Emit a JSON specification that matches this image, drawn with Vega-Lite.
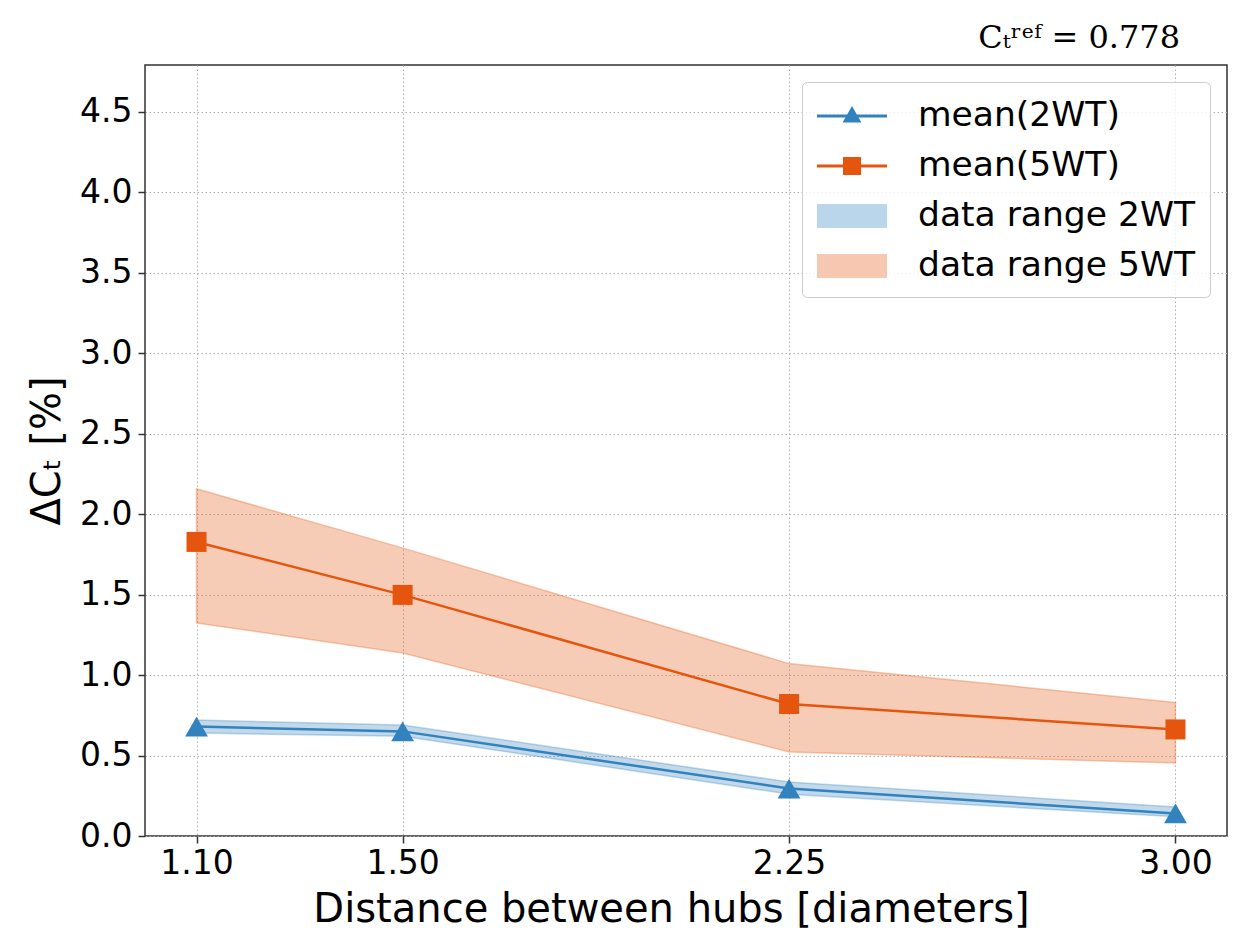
{
  "$schema": "https://vega.github.io/schema/vega-lite/v6.json",
  "width": 1082,
  "height": 771,
  "autosize": {"type": "none"},
  "padding": {"left": 145, "top": 65, "right": 10, "bottom": 97},
  "background": "white",
  "config": {
    "view": {"stroke": "#333333", "strokeWidth": 1.5},
    "font": "DejaVu Sans"
  },
  "title": {
    "text": "Cₜʳᵉᶠ = 0.778",
    "anchor": "end",
    "orient": "top",
    "font": "DejaVu Serif",
    "fontSize": 32,
    "fontWeight": "normal",
    "color": "black",
    "baseline": "bottom",
    "offset": -22,
    "dx": -47
  },
  "data": {
    "values": [
      {"d": 1.10, "meanLabel": "mean(2WT)", "rangeLabel": "data range 2WT", "mean": 0.68, "lo": 0.64, "hi": 0.72},
      {"d": 1.50, "meanLabel": "mean(2WT)", "rangeLabel": "data range 2WT", "mean": 0.65, "lo": 0.62, "hi": 0.69},
      {"d": 2.25, "meanLabel": "mean(2WT)", "rangeLabel": "data range 2WT", "mean": 0.295, "lo": 0.26, "hi": 0.335},
      {"d": 3.00, "meanLabel": "mean(2WT)", "rangeLabel": "data range 2WT", "mean": 0.14, "lo": 0.12, "hi": 0.18},
      {"d": 1.10, "meanLabel": "mean(5WT)", "rangeLabel": "data range 5WT", "mean": 1.827, "lo": 1.324, "hi": 2.157},
      {"d": 1.50, "meanLabel": "mean(5WT)", "rangeLabel": "data range 5WT", "mean": 1.498, "lo": 1.137, "hi": 1.79},
      {"d": 2.25, "meanLabel": "mean(5WT)", "rangeLabel": "data range 5WT", "mean": 0.82, "lo": 0.522, "hi": 1.071},
      {"d": 3.00, "meanLabel": "mean(5WT)", "rangeLabel": "data range 5WT", "mean": 0.662, "lo": 0.454, "hi": 0.83}
    ]
  },
  "encoding": {
    "x": {
      "field": "d",
      "type": "quantitative",
      "scale": {"domain": [1.0, 3.1], "nice": false, "zero": false},
      "axis": {
        "values": [1.1, 1.5, 2.25, 3.0],
        "format": ".2f",
        "title": "Distance between hubs [diameters]",
        "titleFont": "DejaVu Sans",
        "titleFontSize": 40,
        "titleFontWeight": "normal",
        "titleColor": "black",
        "titlePadding": 9,
        "titleX": 526,
        "titleAnchor": "middle",
        "labelFont": "DejaVu Sans",
        "labelFontSize": 33,
        "labelColor": "black",
        "labelPadding": 4,
        "tickSize": 7,
        "tickColor": "#333333",
        "tickWidth": 1.5,
        "domain": false,
        "grid": true,
        "gridColor": "#b0b0b0",
        "gridDash": [1.5, 2.5],
        "gridWidth": 1
      }
    },
    "y": {
      "field": "mean",
      "type": "quantitative",
      "scale": {"domain": [0, 4.79], "nice": false, "zero": false},
      "axis": {
        "values": [0, 0.5, 1, 1.5, 2, 2.5, 3, 3.5, 4, 4.5],
        "format": ".1f",
        "title": "ΔCₜ [%]",
        "titleFont": "DejaVu Sans",
        "titleFontSize": 40,
        "titleFontWeight": "normal",
        "titleColor": "black",
        "titlePadding": 12,
        "labelFont": "DejaVu Sans",
        "labelFontSize": 33,
        "labelColor": "black",
        "labelPadding": 6,
        "tickSize": 7,
        "tickColor": "#333333",
        "tickWidth": 1.5,
        "domain": false,
        "grid": true,
        "gridColor": "#b0b0b0",
        "gridDash": [1.5, 2.5],
        "gridWidth": 1
      }
    }
  },
  "layer": [
    {
      "transform": [{"fold": ["meanLabel", "rangeLabel"], "as": ["kind", "entry"]}],
      "mark": {"type": "point", "filled": true, "opacity": 0, "size": 1},
      "encoding": {
        "color": {
          "field": "entry",
          "type": "nominal",
          "scale": {
            "domain": ["mean(2WT)", "mean(5WT)", "data range 2WT", "data range 5WT"],
            "range": ["#3182bd", "#e6550d", "#bad6ea", "#f6c8b2"]
          },
          "legend": {
            "title": null,
            "orient": "top-right",
            "offset": 17,
            "padding": 14,
            "fillColor": "rgba(255,255,255,0.85)",
            "strokeColor": "#cccccc",
            "cornerRadius": 5,
            "symbolSize": 1600,
            "symbolOpacity": 1,
            "symbolStrokeWidth": 0,
            "symbolFillColor": "#888888",
            "labelOffset": 62,
            "labelFont": "DejaVu Sans",
            "labelFontSize": 34.5,
            "labelColor": "black",
            "labelLimit": 400,
            "rowPadding": 13
          }
        },
        "shape": {
          "field": "entry",
          "type": "nominal",
          "scale": {
            "domain": ["mean(2WT)", "mean(5WT)", "data range 2WT", "data range 5WT"],
            "range": [
              "M-0.95,-0.07H2.55V0.07H-0.95Z M0.8,-0.5L1.27,0.33L0.33,0.33Z",
              "M-0.95,-0.07H2.55V0.07H-0.95Z M0.35,-0.45H1.25V0.45H0.35Z",
              "M-0.95,-0.6H2.55V0.6H-0.95Z",
              "M-0.95,-0.6H2.55V0.6H-0.95Z"
            ]
          },
          "legend": {
            "title": null,
            "orient": "top-right",
            "offset": 17,
            "padding": 14,
            "fillColor": "rgba(255,255,255,0.85)",
            "strokeColor": "#cccccc",
            "cornerRadius": 5,
            "symbolSize": 1600,
            "symbolOpacity": 1,
            "symbolStrokeWidth": 0,
            "symbolFillColor": "#888888",
            "labelOffset": 62,
            "labelFont": "DejaVu Sans",
            "labelFontSize": 34.5,
            "labelColor": "black",
            "labelLimit": 400,
            "rowPadding": 13
          }
        }
      }
    },
    {
      "transform": [{"filter": {"field": "rangeLabel", "equal": "data range 5WT"}}],
      "mark": {"type": "area", "fill": "#e6550d", "fillOpacity": 0.3, "stroke": "#e6550d", "strokeOpacity": 0.3, "strokeWidth": 1.5},
      "encoding": {"y": {"field": "lo", "type": "quantitative"}, "y2": {"field": "hi"}}
    },
    {
      "transform": [{"filter": {"field": "rangeLabel", "equal": "data range 2WT"}}],
      "mark": {"type": "area", "fill": "#3182bd", "fillOpacity": 0.3, "stroke": "#3182bd", "strokeOpacity": 0.3, "strokeWidth": 1.5},
      "encoding": {"y": {"field": "lo", "type": "quantitative"}, "y2": {"field": "hi"}}
    },
    {
      "transform": [{"filter": {"field": "meanLabel", "equal": "mean(5WT)"}}],
      "mark": {"type": "line", "color": "#e6550d", "strokeWidth": 2.5},
      "encoding": {}
    },
    {
      "transform": [{"filter": {"field": "meanLabel", "equal": "mean(2WT)"}}],
      "mark": {"type": "line", "color": "#3182bd", "strokeWidth": 2.5},
      "encoding": {}
    },
    {
      "transform": [{"filter": {"field": "meanLabel", "equal": "mean(5WT)"}}],
      "mark": {"type": "point", "shape": "square", "filled": true, "color": "#e6550d", "opacity": 1, "size": 400, "strokeWidth": 0}
    },
    {
      "transform": [{"filter": {"field": "meanLabel", "equal": "mean(2WT)"}}],
      "mark": {"type": "point", "shape": "triangle-up", "filled": true, "color": "#3182bd", "opacity": 1, "size": 520, "strokeWidth": 0}
    }
  ]
}
